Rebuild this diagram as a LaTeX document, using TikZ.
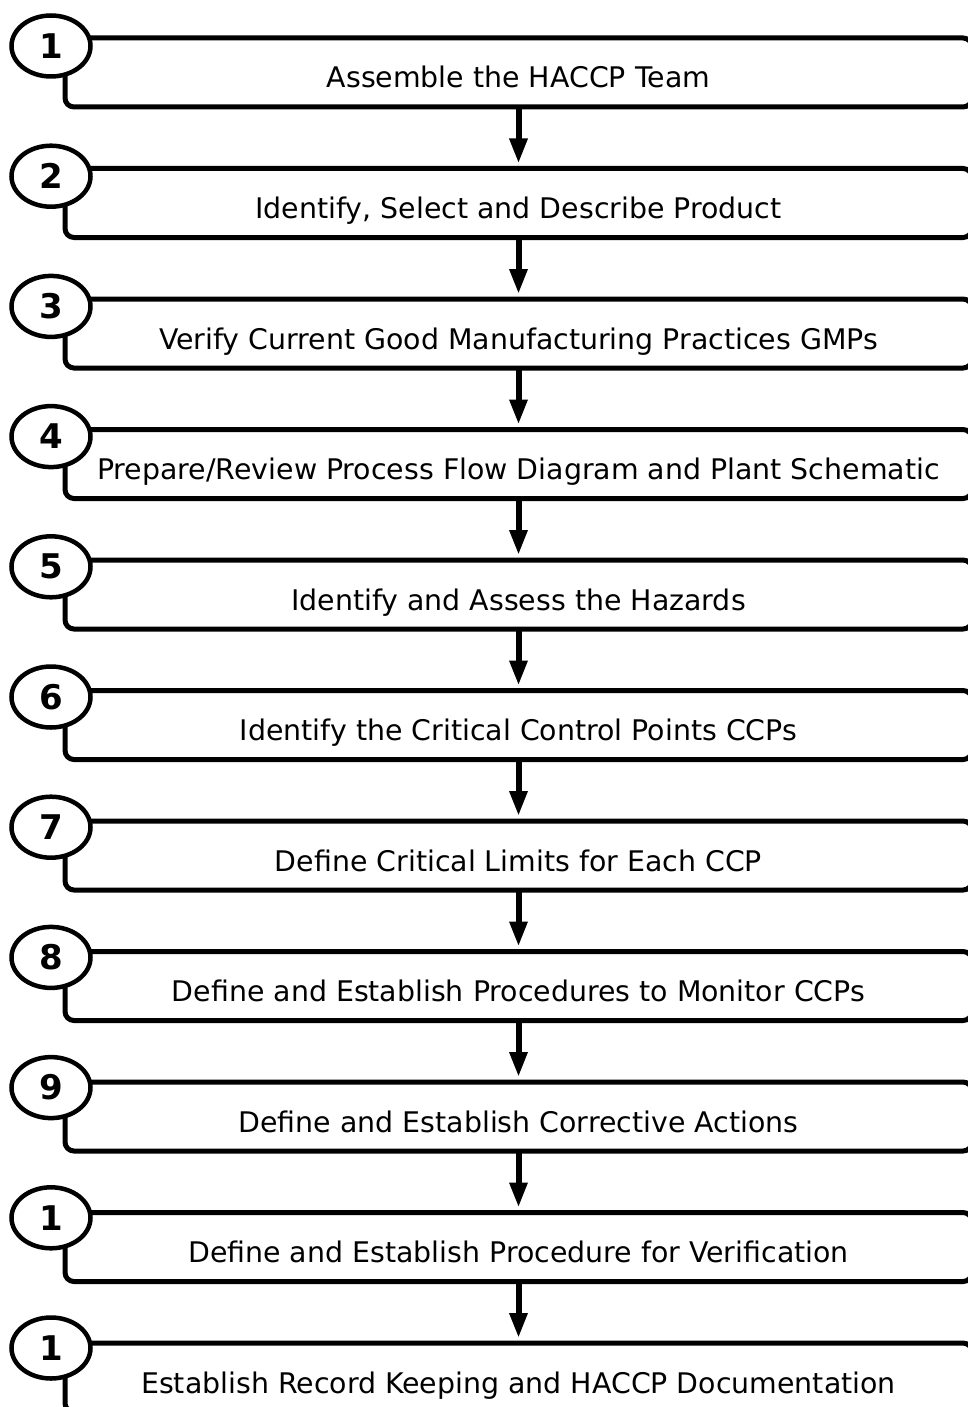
\documentclass[tikz,border=0pt]{standalone}
\usepackage{fontspec}
\setmainfont{DejaVu Sans}
\usetikzlibrary{shapes.geometric,arrows.meta}

\tikzset{
  stepbox/.style={draw, line width=5pt, rounded corners=9pt, minimum width=907pt,
    minimum height=69pt, inner sep=0pt, outer sep=0pt},
  steptext/.style={anchor=base, inner sep=0pt, font=\fontsize{28.4}{32}\selectfont},
  numbadge/.style={ellipse, draw, fill=white, line width=4.5pt, minimum width=79pt,
    minimum height=61pt, inner sep=0pt, font=\bfseries\fontsize{34}{38}\selectfont},
  flowarrow/.style={line width=6pt, -{Triangle[width=17pt,length=25pt]}, shorten >=5pt}
}

\begin{document}
\begin{tikzpicture}[x=1pt, y=-1pt]
  \useasboundingbox (0,0) rectangle (968,1407);
  \clip (0,0) rectangle (968,1407);

  \foreach \i/\num/\txt in {
      1/1/{Assemble the HACCP Team},
      2/2/{Identify, Select and Describe Product},
      3/3/{Verify Current Good Manufacturing Practices GMPs},
      4/4/{Prepare/Review Process Flow Diagram and Plant Schematic},
      5/5/{Identify and Assess the Hazards},
      6/6/{Identify the Critical Control Points CCPs},
      7/7/{Define Critical Limits for Each CCP},
      8/8/{Define and Establish Procedures to Monitor CCPs},
      9/9/{Define and Establish Corrective Actions},
      10/1/{Define and Establish Procedure for Verification},
      11/1/{Establish Record Keeping and HACCP Documentation}} {
    \pgfmathsetmacro{\boxmid}{38 + (\i-1)*130.5 + 34.5}
    \pgfmathsetmacro{\badgey}{46 + (\i-1)*130.2}
    % step frame, its label and the numbered badge over its top-left corner
    \node[stepbox] (b\i) at (518.5, \boxmid) {};
    \node[steptext] (t\i) at ([yshift=-50pt]b\i.north) {\txt};
    \node[numbadge] (n\i) at (51, \badgey) {\num};
  }

  % arrows between consecutive steps
  \foreach \i in {1,...,10} {
    \pgfmathtruncatemacro{\j}{\i+1}
    \draw[flowarrow] (b\i.south) -- (b\j.north);
  }
\end{tikzpicture}
\end{document}
